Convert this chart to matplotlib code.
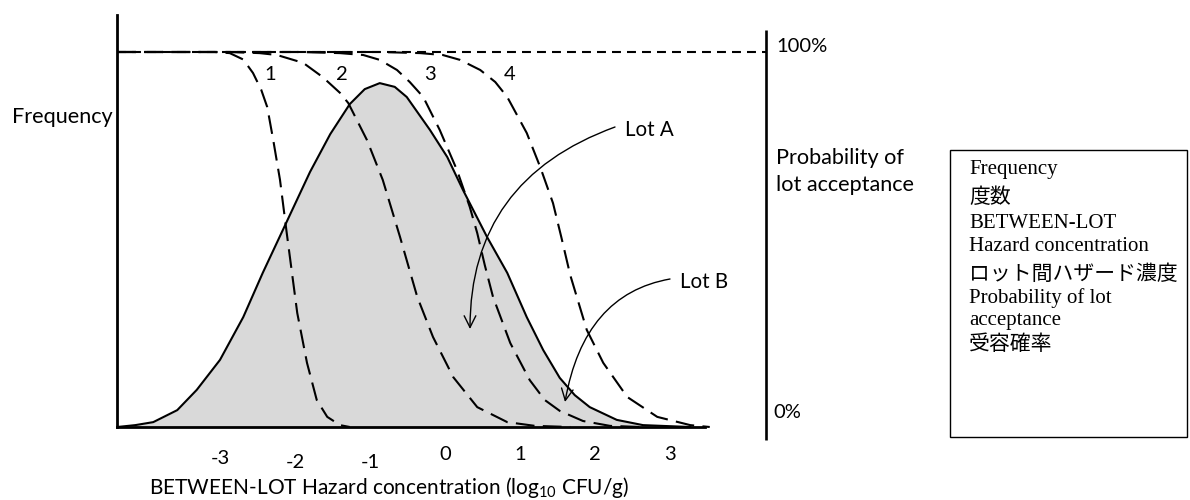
import matplotlib
matplotlib.use("Agg")
import matplotlib.pyplot as plt
from matplotlib.patches import Rectangle

# ---------------- data (log10 CFU/g on x, fraction on y) ----------------
tick_values = [-3, -2, -1, 0, 1, 2, 3]
tick_labels = ["-3", "-2", "-1", "0", "1", "2", "3"]

freq_x = [-4.37, -4.13, -3.89, -3.57, -3.31, -3.00, -2.69, -2.43, -2.13, -1.80,
          -1.53, -1.27, -1.07, -0.87, -0.67, -0.51, -0.20, 0.03, 0.24, 0.56,
          0.83, 1.09, 1.31, 1.53, 1.73, 1.93, 2.29, 2.64, 3.27]
freq_y = [0.0, 0.005, 0.013, 0.045, 0.099, 0.179, 0.293, 0.411, 0.539, 0.680,
          0.781, 0.861, 0.901, 0.917, 0.907, 0.880, 0.792, 0.720, 0.632, 0.507,
          0.411, 0.293, 0.205, 0.131, 0.085, 0.053, 0.019, 0.005, 0.0]

acc1_x = [-4.37, -3.07, -2.87, -2.69, -2.56, -2.45, -2.37, -2.29, -2.20, -2.11,
          -1.97, -1.84, -1.71, -1.57, -1.40, -1.27]
acc1_y = [1.0, 1.0, 0.997, 0.98, 0.944, 0.899, 0.853, 0.765, 0.659, 0.517,
          0.304, 0.171, 0.072, 0.027, 0.005, 0.0]

acc2_x = [-4.37, -2.87, -2.47, -2.24, -1.89, -1.63, -1.40, -1.29, -1.04, -0.83,
          -0.60, -0.37, -0.16, 0.11, 0.43, 0.83, 1.20, 1.67]
acc2_y = [1.0, 1.0, 0.997, 0.992, 0.971, 0.933, 0.891, 0.864, 0.765, 0.659,
          0.507, 0.347, 0.24, 0.133, 0.053, 0.013, 0.003, 0.0]

acc3_x = [-4.37, -1.93, -1.40, -1.09, -0.87, -0.64, -0.47, -0.29, -0.07, 0.16,
          0.33, 0.43, 0.53, 0.64, 0.87, 1.13, 1.33, 1.53, 1.84, 2.20, 2.60]
acc3_y = [1.0, 1.0, 0.997, 0.992, 0.979, 0.952, 0.92, 0.88, 0.792, 0.685,
          0.587, 0.517, 0.432, 0.347, 0.224, 0.125, 0.072, 0.043, 0.016, 0.003, 0.0]

acc4_x = [-4.37, -0.87, -0.33, -0.03, 0.20, 0.47, 0.67, 0.83, 1.09, 1.27,
          1.44, 1.55, 1.67, 1.89, 2.11, 2.43, 2.83, 3.27, 3.53]
acc4_y = [1.0, 1.0, 0.997, 0.992, 0.979, 0.952, 0.92, 0.88, 0.784, 0.693,
          0.597, 0.507, 0.405, 0.259, 0.171, 0.08, 0.027, 0.005, 0.0]

curve_labels = ["1", "2", "3", "4"]

legend_lines = ["Frequency", "度数", "BETWEEN-LOT", "Hazard concentration",
                "ロット間ハザード濃度", "Probability of lot", "acceptance", "受容確率"]

# ---------------- layout helpers (pixel -> data) ----------------
W, H = 1190, 500
def X(px):
    return (px - 445) / 75.0
def Y(py):
    return (427 - py) / 375.0

SANS = ["Lato", "DejaVu Sans"]
MIXED = ["Liberation Serif", "Noto Sans CJK JP", "DejaVu Sans"]
plt.rcParams["font.family"] = SANS
plt.rcParams["mathtext.fontset"] = "custom"
plt.rcParams["mathtext.rm"] = "Lato"
plt.rcParams["mathtext.default"] = "regular"

FS_NUM = 14.5
FS_WORD = 15.6

fig = plt.figure(figsize=(W / 100, H / 100), dpi=100)
ax = fig.add_axes([117 / W, (H - 427) / H, (705 - 117) / W, (427 - 15) / H])
ax.set_xlim(X(117), X(705))
ax.set_ylim(0, Y(15))
for s in ["top", "right"]:
    ax.spines[s].set_visible(False)
for s in ["left", "bottom"]:
    ax.spines[s].set_linewidth(2.0)
ax.set_xticks([])
ax.set_yticks([])
ax.patch.set_alpha(0)

# frequency distribution
ax.fill_between(freq_x, freq_y, 0, color="#d9d9d9", lw=0, zorder=1)
ax.plot(freq_x, freq_y, color="black", lw=1.5, zorder=3, clip_on=False,
        solid_joinstyle="round")

# 100% reference line
ax.plot([X(117), X(766)], [1.0, 1.0], color="black", lw=1.5,
        linestyle=(0, (4.3, 2.9)), clip_on=False, zorder=4)

# acceptance curves
for cx, cy in [(acc1_x, acc1_y), (acc2_x, acc2_y), (acc3_x, acc3_y), (acc4_x, acc4_y)]:
    ax.plot(cx, cy, color="black", lw=1.5, linestyle=(0, (9.0, 4.0)),
            clip_on=False, zorder=4)

# curve numbers
for lab, px in zip(curve_labels, [270, 342, 430, 510]):
    ax.text(X(px), Y(74), lab, ha="center", va="center", fontsize=FS_NUM)

# right axis line
ax.plot([X(766), X(766)], [Y(30), Y(440)], color="black", lw=1.9,
        clip_on=False, solid_capstyle="butt")

# tick labels
for v, lab, py in zip(tick_values, tick_labels, [459, 462, 462, 455, 455, 455, 455]):
    ax.text(v, Y(py), lab, ha="center", va="center", fontsize=FS_NUM, clip_on=False)

ax.text(X(389), Y(487), "BETWEEN-LOT Hazard concentration (log$_{10}$ CFU/g)",
        ha="center", va="center", fontsize=15.0)
ax.text(X(12), Y(117), "Frequency", ha="left", va="center", fontsize=FS_WORD)
ax.text(X(776), Y(47), "100%", ha="left", va="center", fontsize=FS_NUM)
ax.text(X(773), Y(412), "0%", ha="left", va="center", fontsize=FS_NUM)
ax.text(X(776), Y(158), "Probability of", ha="left", va="center", fontsize=FS_WORD)
ax.text(X(776), Y(185), "lot acceptance", ha="left", va="center", fontsize=FS_WORD)

# lot annotations
ax.text(X(625), Y(130), "Lot A", ha="left", va="center", fontsize=14.8)
ax.annotate("", xy=(X(470), Y(329)), xytext=(X(615), Y(127)),
            arrowprops=dict(arrowstyle="->,head_length=0.7,head_width=0.35",
                            connectionstyle="angle3,angleA=20,angleB=90",
                            lw=1.0, color="black", shrinkA=0, shrinkB=0,
                            mutation_scale=12),
            annotation_clip=False)
ax.text(X(680), Y(282), "Lot B", ha="left", va="center", fontsize=14.8)
ax.annotate("", xy=(X(565), Y(402)), xytext=(X(670), Y(279)),
            arrowprops=dict(arrowstyle="->,head_length=0.7,head_width=0.35",
                            connectionstyle="angle3,angleA=10,angleB=80",
                            lw=1.0, color="black", shrinkA=0, shrinkB=0,
                            mutation_scale=12),
            annotation_clip=False)

# translation box
fig.add_artist(Rectangle((950 / W, 1 - 437 / H), (1187 - 950) / W, (437 - 150) / H,
                         transform=fig.transFigure, fill=False, lw=1.0,
                         edgecolor="black"))
for line, by in zip(legend_lines, [174, 203, 228, 251, 280, 303, 325, 350]):
    fig.text(969 / W, 1 - by / H, line, ha="left", va="baseline",
             fontsize=15, family=MIXED)

fig.savefig("out.png", dpi=100)
